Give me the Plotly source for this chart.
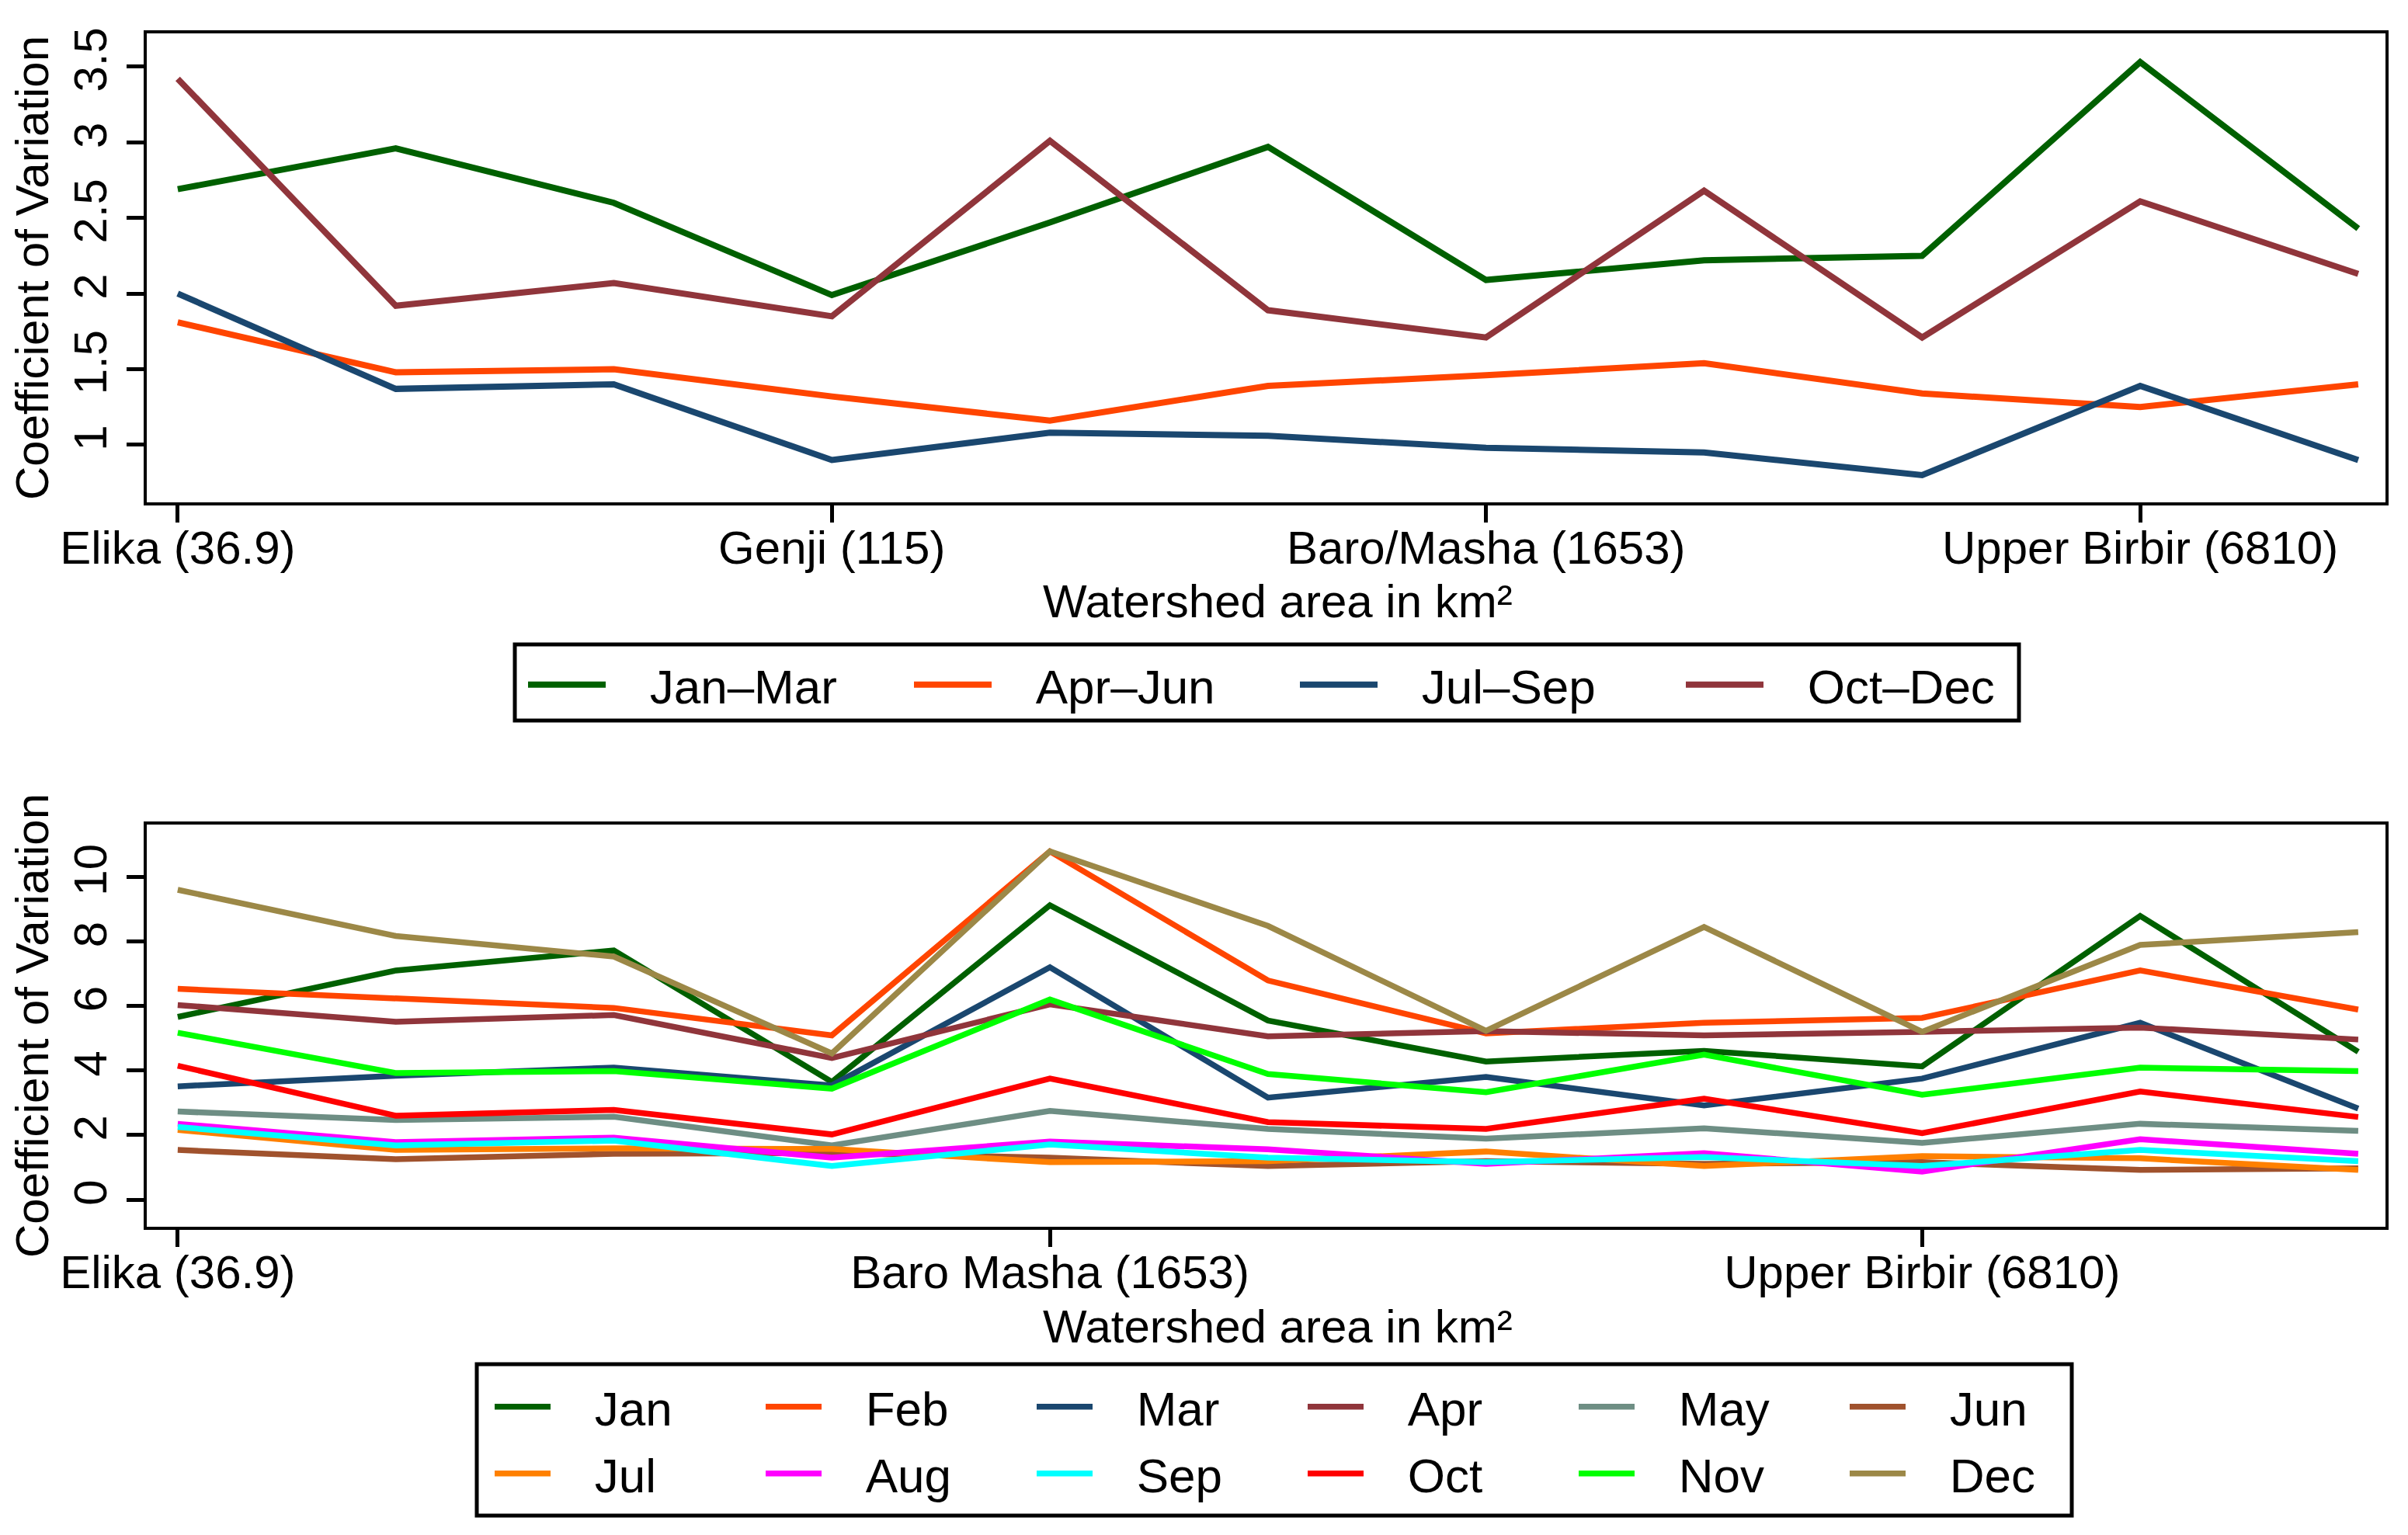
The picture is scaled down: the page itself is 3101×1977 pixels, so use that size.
import plotly.graph_objects as go

# ---------------- data ----------------
x_idx = list(range(11))

top_tick_pos = [0, 3, 6, 9]
top_tick_labels = ["Elika (36.9)", "Genji (115)", "Baro/Masha (1653)", "Upper Birbir (6810)"]
bot_tick_pos = [0, 4, 8]
bot_tick_labels = ["Elika (36.9)", "Baro Masha (1653)", "Upper Birbir (6810)"]

quarter_names = ["Jan–Mar", "Apr–Jun", "Jul–Sep", "Oct–Dec"]
jan_mar = [2.69, 2.96, 2.60, 1.99, 2.47, 2.97, 2.09, 2.22, 2.25, 3.53, 2.43]
apr_jun = [1.81, 1.48, 1.50, 1.32, 1.16, 1.39, 1.46, 1.54, 1.34, 1.25, 1.40]
jul_sep = [2.00, 1.37, 1.40, 0.90, 1.08, 1.06, 0.98, 0.95, 0.80, 1.39, 0.90]
oct_dec = [3.42, 1.92, 2.07, 1.85, 3.01, 1.89, 1.71, 2.68, 1.71, 2.61, 2.13]

month_names = ["Jan", "Feb", "Mar", "Apr", "May", "Jun",
               "Jul", "Aug", "Sep", "Oct", "Nov", "Dec"]
jan = [5.66, 7.10, 7.72, 3.65, 9.12, 5.55, 4.28, 4.61, 4.13, 8.79, 4.58]
feb = [6.53, 6.23, 5.94, 5.09, 10.79, 6.79, 5.15, 5.48, 5.63, 7.10, 5.89]
mar = [3.51, 3.84, 4.09, 3.54, 7.20, 3.16, 3.80, 2.92, 3.75, 5.48, 2.82]
apr = [6.03, 5.51, 5.72, 4.39, 6.05, 5.06, 5.22, 5.09, 5.20, 5.33, 4.96]
may = [2.73, 2.47, 2.57, 1.68, 2.75, 2.19, 1.89, 2.21, 1.76, 2.35, 2.13]
jun = [1.54, 1.25, 1.42, 1.44, 1.30, 1.04, 1.19, 1.11, 1.16, 0.92, 0.97]
jul = [2.16, 1.54, 1.59, 1.57, 1.16, 1.19, 1.49, 1.04, 1.35, 1.28, 0.92]
aug = [2.35, 1.78, 1.92, 1.30, 1.80, 1.56, 1.11, 1.44, 0.87, 1.87, 1.42]
sep = [2.25, 1.68, 1.83, 1.04, 1.71, 1.30, 1.16, 1.32, 1.04, 1.54, 1.19]
oct_ = [4.15, 2.60, 2.78, 2.02, 3.75, 2.40, 2.19, 3.13, 2.06, 3.35, 2.56]
nov = [5.17, 3.92, 3.98, 3.44, 6.20, 3.89, 3.33, 4.49, 3.25, 4.09, 3.98]
dec = [9.60, 8.17, 7.53, 4.53, 10.79, 8.48, 5.23, 8.45, 5.20, 7.89, 8.29]

quarter_values = [jan_mar, apr_jun, jul_sep, oct_dec]
month_values = [jan, feb, mar, apr, may, jun, jul, aug, sep, oct_, nov, dec]

quarter_colors = ["#006000", "#FF4500", "#1A476F", "#90353B"]
month_colors = ["#006000", "#FF4500", "#1A476F", "#90353B", "#6E8E84", "#A0522D",
                "#FF8000", "#FF00FF", "#00FFFF", "#FF0000", "#00FF00", "#9C8847"]

# ---------------- figure ----------------
FONT = "Liberation Sans, Arial, sans-serif"
FS = 60      # axis text
FSL = 62     # legend text
NB = "\u00a0"

W, H = 3101, 1977
ml, mr, mt, mb = 189, 29, 43, 397
pw = W - ml - mr
ph = H - mt - mb


def py(pix):
    return (H - mb - pix) / ph


def px(pix):
    return (pix - ml) / pw


fig = go.Figure()

for name, vals, col in zip(quarter_names, quarter_values, quarter_colors):
    fig.add_trace(go.Scatter(
        x=x_idx, y=vals, mode="lines", name=NB * 3 + name,
        line=dict(color=col, width=8),
        xaxis="x", yaxis="y", legend="legend",
    ))

for i, (name, vals, col) in enumerate(zip(month_names, month_values, month_colors)):
    fig.add_trace(go.Scatter(
        x=x_idx, y=vals, mode="lines", name=NB * 3 + name,
        line=dict(color=col, width=7.5),
        xaxis="x2", yaxis="y2", legend="legend2" if i < 6 else "legend3",
    ))

axis_common = dict(
    showline=True, linecolor="black", linewidth=4, mirror=True,
    ticks="outside", ticklen=22, tickwidth=5, tickcolor="black",
    showgrid=False, zeroline=False,
    tickfont=dict(family=FONT, size=FS, color="black"),
)

legend_common = dict(
    orientation="h", xanchor="left", yanchor="middle",
    borderwidth=0, bgcolor="rgba(0,0,0,0)",
    font=dict(family=FONT, size=FSL, color="black"),
    entrywidthmode="pixels",
)

fig.update_layout(
    width=W, height=H,
    margin=dict(l=ml, r=mr, t=mt, b=mb),
    paper_bgcolor="white", plot_bgcolor="white",
    font=dict(family=FONT, size=FS, color="black"),
    xaxis=dict(axis_common, domain=[0, 1], range=[-0.142, 10.125],
               tickvals=top_tick_pos, ticktext=top_tick_labels, anchor="y",
               ticklabelstandoff=-19),
    yaxis=dict(axis_common, domain=[py(647), 1], range=[0.62, 3.72],
               tickvals=[1, 1.5, 2, 2.5, 3, 3.5],
               ticktext=["1", "1.5", "2", "2.5", "3", "3.5"],
               tickangle=-90, anchor="x", ticklabelstandoff=2,
               title=dict(text="Coefficient of Variation", standoff=2,
                          font=dict(family=FONT, size=FS))),
    xaxis2=dict(axis_common, domain=[0, 1], range=[-0.142, 10.125],
                tickvals=bot_tick_pos, ticktext=bot_tick_labels, anchor="y2",
                ticklabelstandoff=-19),
    yaxis2=dict(axis_common, domain=[0, py(1062)], range=[-0.84, 11.62],
                tickvals=[0, 2, 4, 6, 8, 10],
                ticktext=["0", "2", "4", "6", "8", "10"],
                tickangle=-90, anchor="x2", ticklabelstandoff=2,
                title=dict(text="Coefficient of Variation", standoff=2,
                           font=dict(family=FONT, size=FS))),
    legend=dict(legend_common, x=px(675), y=py(882),
                itemwidth=100, entrywidth=382),
    legend2=dict(legend_common, x=px(632), y=py(1812),
                 itemwidth=72, entrywidth=262),
    legend3=dict(legend_common, x=px(632), y=py(1898),
                 itemwidth=72, entrywidth=262),
    showlegend=True,
    annotations=[
        dict(text="Watershed area in km²", xref="paper", yref="paper",
             x=px(1645), y=py(774), xanchor="center", yanchor="middle",
             showarrow=False, font=dict(family=FONT, size=FS, color="black")),
        dict(text="Watershed area in km²", xref="paper", yref="paper",
             x=px(1645), y=py(1708), xanchor="center", yanchor="middle",
             showarrow=False, font=dict(family=FONT, size=FS, color="black")),
    ],
    shapes=[
        dict(type="rect", xref="paper", yref="paper",
             x0=px(663), x1=px(2600), y0=py(928), y1=py(830),
             line=dict(color="black", width=5), fillcolor="rgba(0,0,0,0)",
             layer="above"),
        dict(type="rect", xref="paper", yref="paper",
             x0=px(614), x1=px(2668), y0=py(1952), y1=py(1757),
             line=dict(color="black", width=5), fillcolor="rgba(0,0,0,0)",
             layer="above"),
    ],
)

fig.write_html("out.html", config={"displayModeBar": False},
               post_script="document.body.style.margin='0';")
